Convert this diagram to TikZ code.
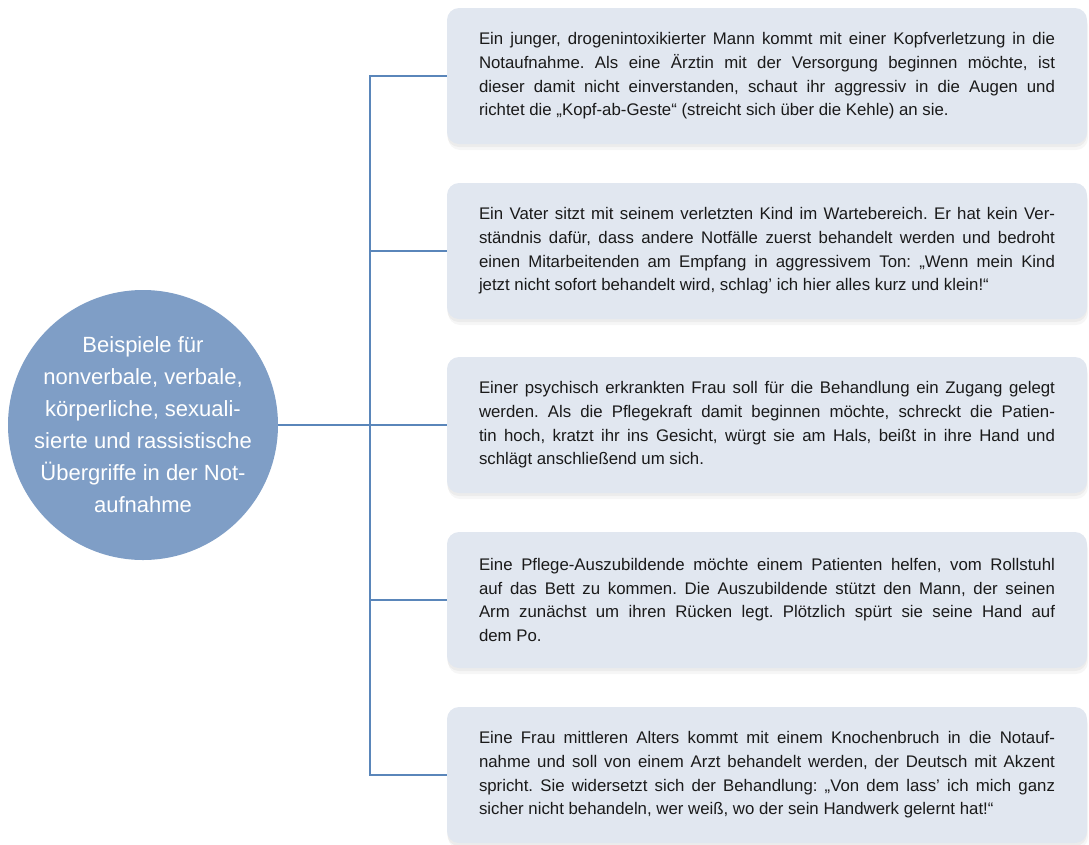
\documentclass[tikz,border=0pt]{standalone}
\usepackage{fontspec}
\setmainfont{Liberation Sans}
\usetikzlibrary{shadows}
\definecolor{topicblue}{RGB}{127,158,198}
\definecolor{linkblue}{RGB}{90,134,186}
\definecolor{boxgrey}{RGB}{225,231,240}
\definecolor{textgrey}{RGB}{26,26,26}
\newcommand{\casefont}{\fontsize{16.8}{23.6}\selectfont\frenchspacing
  \hyphenpenalty=10000\relax\exhyphenpenalty=10000\relax\tolerance=10000\relax}
\newcommand{\casebox}[3]{%
\node[casenode] (#1) at (767,#2) {#3};
}
\newcommand{\stub}[1]{%
\draw[link] (#1.west) -- (#1.west -| trunk);
}

\begin{document}
\begin{tikzpicture}[x=1pt,y=-1pt]
\tikzstyle{link}=[linkblue,line width=2.6pt]
\tikzstyle{casenode}=[fill=boxgrey,rounded corners=12pt,minimum width=640pt,minimum height=136pt,
  text width=576pt,align=justify,inner xsep=32pt,text=textgrey,font=\casefont,
  drop shadow={opacity=0.07,shadow xshift=1pt,shadow yshift=-6pt},
  drop shadow={opacity=0.09,shadow xshift=0pt,shadow yshift=-3pt}]
\tikzstyle{topicnode}=[circle,fill=topicblue,minimum size=270pt,inner sep=0pt]
\tikzstyle{topiclabel}=[text=white,align=center,font=\fontsize{22}{32}\selectfont]

\useasboundingbox (0,0) rectangle (1089,844);

% centre
\node[topicnode,label={[topiclabel]center:{Beispiele für\\nonverbale, verbale,\\körperliche, sexuali-\\sierte und rassistische\\Übergriffe in der Not-\\aufnahme}}] (topic) at (143,425) {};

% cases
\casebox{ex1}{76}{Ein junger, drogenintoxikierter Mann kommt mit einer Kopfverletzung in die\linebreak Notaufnahme. Als eine Ärztin mit der Versorgung beginnen möchte, ist\linebreak dieser damit nicht einverstanden, schaut ihr aggressiv in die Augen und\linebreak richtet die „Kopf-ab-Geste“ (streicht sich über die Kehle) an sie.}
\casebox{ex2}{251}{Ein Vater sitzt mit seinem verletzten Kind im Wartebereich. Er hat kein Ver-\linebreak ständnis dafür, dass andere Notfälle zuerst behandelt werden und bedroht\linebreak einen Mitarbeitenden am Empfang in aggressivem Ton: „Wenn mein Kind\linebreak jetzt nicht sofort behandelt wird, schlag' ich hier alles kurz und klein!“}
\casebox{ex3}{425}{Einer psychisch erkrankten Frau soll für die Behandlung ein Zugang gelegt\linebreak werden. Als die Pflegekraft damit beginnen möchte, schreckt die Patien-\linebreak tin hoch, kratzt ihr ins Gesicht, würgt sie am Hals, beißt in ihre Hand und\linebreak schlägt anschließend um sich.}
\casebox{ex4}{600}{Eine Pflege-Auszubildende möchte einem Patienten helfen, vom Rollstuhl\linebreak auf das Bett zu kommen. Die Auszubildende stützt den Mann, der seinen\linebreak Arm zunächst um ihren Rücken legt. Plötzlich spürt sie seine Hand auf\linebreak dem Po.}
\casebox{ex5}{775}{Eine Frau mittleren Alters kommt mit einem Knochenbruch in die Notauf-\linebreak nahme und soll von einem Arzt behandelt werden, der Deutsch mit Akzent\linebreak spricht. Sie widersetzt sich der Behandlung: „Von dem lass' ich mich ganz\linebreak sicher nicht behandeln, wer weiß, wo der sein Handwerk gelernt hat!“}

% connectors
\coordinate (trunk) at (370,425);
\draw[link] (ex1.west) -- (ex1.west -| trunk) -- (ex5.west -| trunk) -- (ex5.west);
\stub{ex2}
\stub{ex4}
\draw[link] (topic.east) -- (ex3.west);

\end{tikzpicture}
\end{document}
